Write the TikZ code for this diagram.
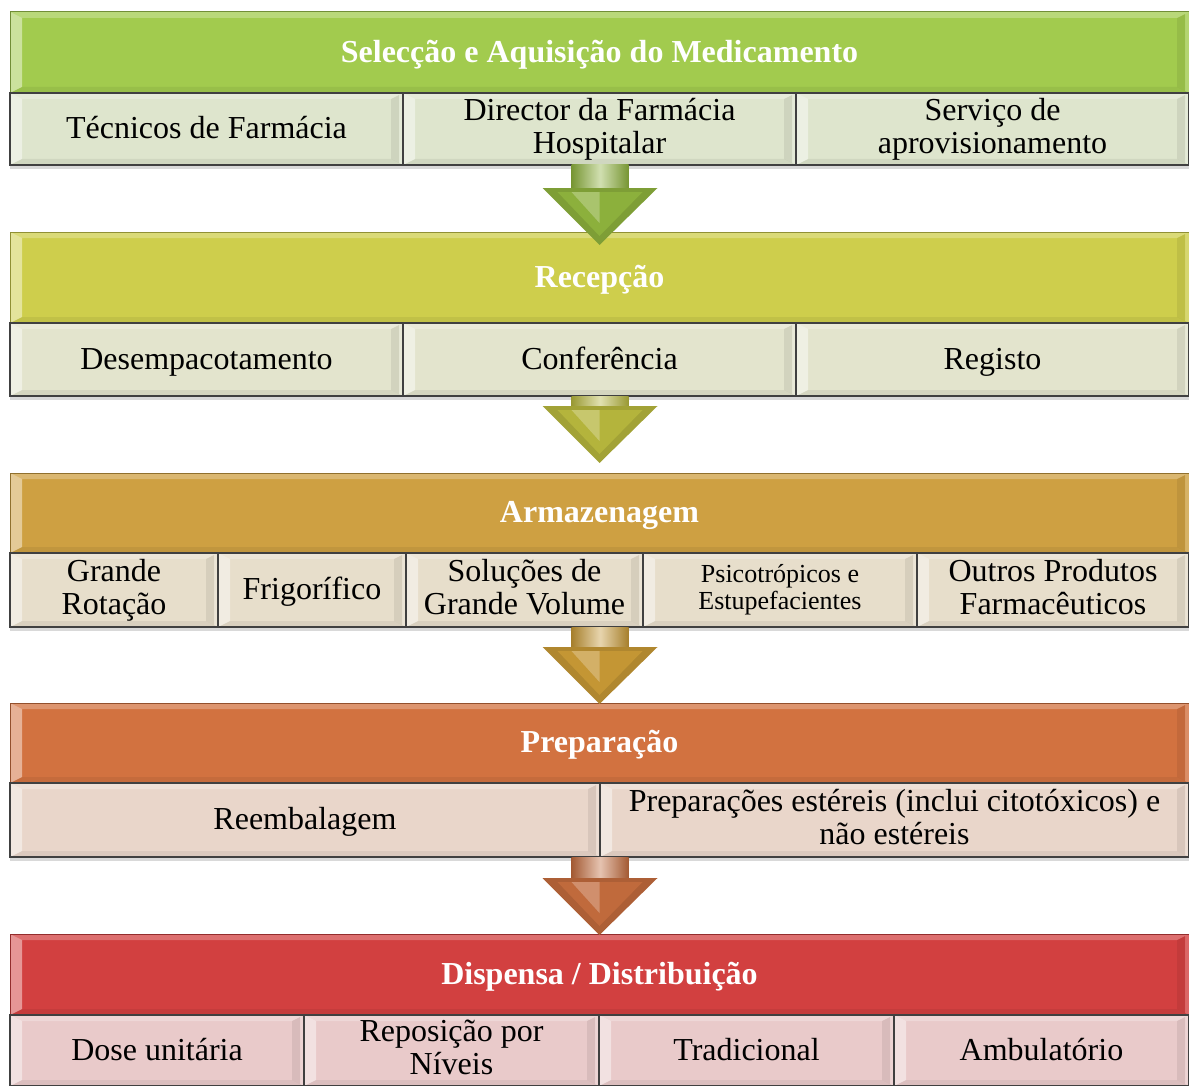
\documentclass[tikz,border=0pt]{standalone}
\usepackage{fontspec}
\setmainfont{Liberation Serif}
\usetikzlibrary{calc,shadows}

\definecolor{headA}{RGB}{162,203,78}
\definecolor{headB}{RGB}{206,206,76}
\definecolor{headC}{RGB}{206,160,66}
\definecolor{headD}{RGB}{210,114,64}
\definecolor{headE}{RGB}{210,64,64}
\definecolor{cellA}{RGB}{222,229,205}
\definecolor{cellB}{RGB}{227,228,205}
\definecolor{cellC}{RGB}{231,222,203}
\definecolor{cellD}{RGB}{233,214,202}
\definecolor{cellE}{RGB}{233,202,202}
\definecolor{arrowA}{RGB}{140,176,60}
\definecolor{arrowB}{RGB}{180,180,60}
\definecolor{arrowC}{RGB}{196,150,52}
\definecolor{arrowD}{RGB}{192,106,60}
\definecolor{cellline}{RGB}{64,64,64}

\newcommand\cellstrut{\rule[-0.2\baselineskip]{0pt}{\baselineskip}}

\tikzset{
  bevel/.style={path picture={
      \fill[white,opacity=.45] (path picture bounding box.south west) -- (path picture bounding box.north west)
        -- ([shift={(6pt,-3pt)}]path picture bounding box.north west) -- ([shift={(6pt,3pt)}]path picture bounding box.south west) -- cycle;
      \fill[white,opacity=.25] (path picture bounding box.north west) -- (path picture bounding box.north east)
        -- ([shift={(-6pt,-3pt)}]path picture bounding box.north east) -- ([shift={(6pt,-3pt)}]path picture bounding box.north west) -- cycle;
      \fill[white,opacity=.2] (path picture bounding box.north east) -- (path picture bounding box.south east)
        -- ([shift={(-2pt,1pt)}]path picture bounding box.south east) -- ([shift={(-2pt,-1pt)}]path picture bounding box.north east) -- cycle;
      \fill[black,opacity=.07] ([shift={(-2pt,-1pt)}]path picture bounding box.north east) -- ([shift={(-2pt,1pt)}]path picture bounding box.south east)
        -- ([shift={(-6pt,3pt)}]path picture bounding box.south east) -- ([shift={(-6pt,-3pt)}]path picture bounding box.north east) -- cycle;
      \fill[black,opacity=.06] (path picture bounding box.south west) -- (path picture bounding box.south east)
        -- ([shift={(-6pt,3pt)}]path picture bounding box.south east) -- ([shift={(6pt,3pt)}]path picture bounding box.south west) -- cycle;
    }},
  headbox/.style={fill=#1, draw=#1!70!black, line width=0.5pt, bevel, anchor=north west,
    inner sep=0pt, outer sep=0pt, align=center, text=white,
    execute at begin node=\cellstrut, execute at end node=\cellstrut,
    font=\fontsize{16}{16.5}\selectfont\bfseries},
  cellbox/.style={fill=#1, draw=cellline, line width=0.6pt, bevel, anchor=north west,
    inner sep=0pt, outer sep=0pt, align=center,
    execute at begin node=\cellstrut, execute at end node=\cellstrut,
    drop shadow={shadow xshift=0pt, shadow yshift=-2pt, opacity=.3},
    font=\fontsize{16}{16.5}\selectfont},
  smalltext/.style={font=\fontsize{13}{13.5}\selectfont}
}

% name, style, x1, x2, y1, y2, text
\newcommand\cell[7]{\node[#2, minimum width={(#4-#3)*0.5pt}, minimum height={(#6-#5)*0.5pt}] (#1) at (#3,#5) {#7};}

% colour, upper header, cell of its row, lower header, tip shift
\newcommand\flowarrow[5]{%
  \coordinate (tip) at ($(#4.north)+(0,#5)$);
  \coordinate (tail) at (#2.center |- #3.south);
  \shade[left color=#1!85!black, right color=#1!85!black, middle color=#1!40!white]
    ($(tail)+(-28,0)$) rectangle ($(tip)+(29,-45)$);
  \fill[#1!90!black] ($(tip)+(-57,-57)$) -- ($(tip)+(58,-57)$) -- (tip) -- cycle;
  \fill[#1] ($(tip)+(-42,-53)$) -- ($(tip)+(43,-53)$) -- ($(tip)+(0,-9)$) -- cycle;
  \fill[#1!75!white] ($(tip)+(-28,-53)$) -- ($(tip)+(0,-53)$) -- ($(tip)+(0,-22)$) -- cycle;
}

\begin{document}
\begin{tikzpicture}[x=0.5pt,y=-0.5pt]
  \useasboundingbox (0,0) rectangle (1189,1086);

  % Selecção e Aquisição
  \cell{hsel}{headbox=headA}{10}{1189}{12}{93}{Selecção e Aquisição do Medicamento}
  \cell{tec}{cellbox=cellA}{10}{403}{93}{165}{Técnicos de Farmácia}
  \cell{dir}{cellbox=cellA}{403}{796}{93}{165}{Director da Farmácia\\Hospitalar}
  \cell{apr}{cellbox=cellA}{796}{1189}{93}{165}{Serviço de\\aprovisionamento}

  % Recepção
  \cell{hrec}{headbox=headB}{10}{1189}{232}{323}{Recepção}
  \cell{des}{cellbox=cellB}{10}{403}{323}{396}{Desempacotamento}
  \cell{con}{cellbox=cellB}{403}{796}{323}{396}{Conferência}
  \cell{reg}{cellbox=cellB}{796}{1189}{323}{396}{Registo}

  % Armazenagem
  \cell{harm}{headbox=headC}{10}{1189}{473}{553}{Armazenagem}
  \cell{rot}{cellbox=cellC}{10}{218}{553}{627}{Grande\\Rotação}
  \cell{fri}{cellbox=cellC}{218}{406}{553}{627}{Frigorífico}
  \cell{sol}{cellbox=cellC}{406}{643}{553}{627}{Soluções de\\Grande Volume}
  \cell{psi}{cellbox=cellC,smalltext}{643}{917}{553}{627}{Psicotrópicos e\\Estupefacientes}
  \cell{out}{cellbox=cellC}{917}{1189}{553}{627}{Outros Produtos\\Farmacêuticos}

  % Preparação
  \cell{hpre}{headbox=headD}{10}{1189}{703}{783}{Preparação}
  \cell{ree}{cellbox=cellD}{10}{600}{783}{857}{Reembalagem}
  \cell{est}{cellbox=cellD}{600}{1189}{783}{857}{Preparações estéreis (inclui citotóxicos) e\\não estéreis}

  % Dispensa / Distribuição
  \cell{hdis}{headbox=headE}{10}{1189}{934}{1015}{Dispensa / Distribuição}
  \cell{dos}{cellbox=cellE}{10}{304}{1015}{1086}{Dose unitária}
  \cell{rep}{cellbox=cellE}{304}{599}{1015}{1086}{Reposição por\\Níveis}
  \cell{tra}{cellbox=cellE}{599}{894}{1015}{1086}{Tradicional}
  \cell{amb}{cellbox=cellE}{894}{1189}{1015}{1086}{Ambulatório}

  % arrows between the stages
  \flowarrow{arrowA}{hsel}{dir}{hrec}{13}
  \flowarrow{arrowB}{hrec}{con}{harm}{-10}
  \flowarrow{arrowC}{harm}{sol}{hpre}{1}
  \flowarrow{arrowD}{hpre}{ree}{hdis}{1}
\end{tikzpicture}
\end{document}
